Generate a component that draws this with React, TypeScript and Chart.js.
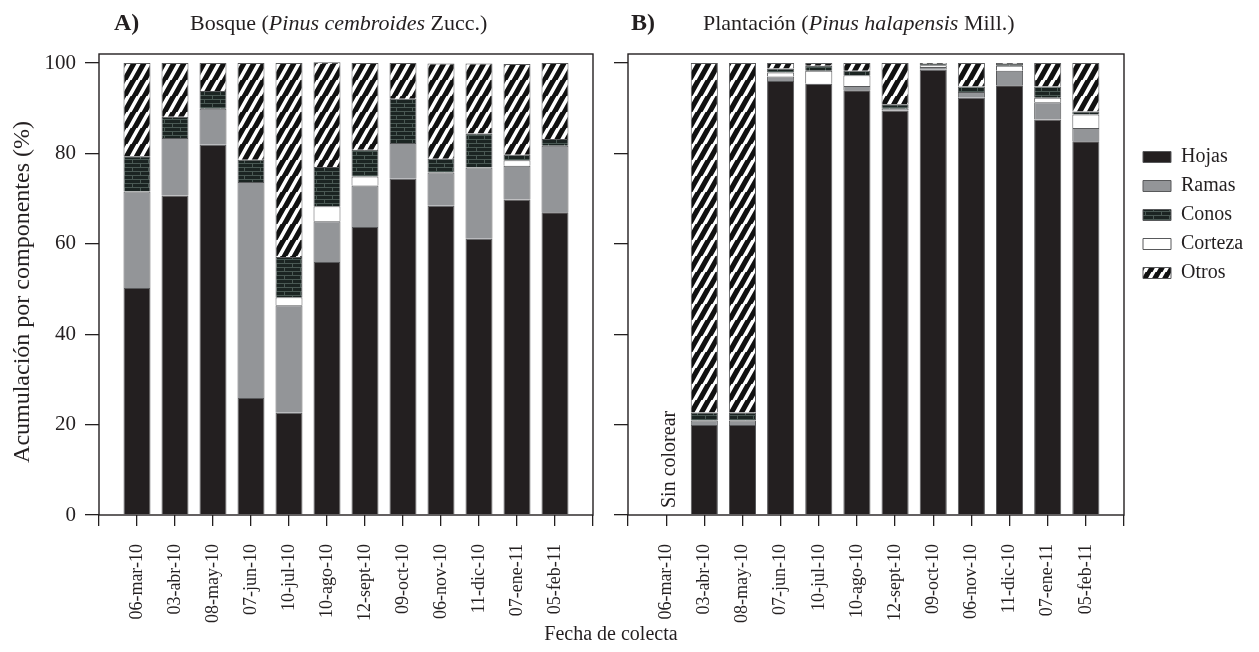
import React, { useEffect, useRef } from 'react';
import { Chart, registerables } from 'chart.js';

Chart.register(...registerables);

// ---------- data ----------
const DATES = ['06-mar-10', '03-abr-10', '08-may-10', '07-jun-10', '10-jul-10', '10-ago-10', '12-sept-10', '09-oct-10', '06-nov-10', '11-dic-10', '07-ene-11', '05-feb-11'];
const Y_TICKS = [0, 20, 40, 60, 80, 100];
// stacking order (bottom -> top)
const STACK_ORDER = ['Hojas', 'Ramas', 'Corteza', 'Conos', 'Otros'];
const LEGEND_ORDER = ['Hojas', 'Ramas', 'Conos', 'Corteza', 'Otros'];

// Panel A: Bosque (Pinus cembroides)
const hojasA = [50.2, 70.7, 81.9, 25.9, 22.6, 56.0, 63.7, 74.4, 68.4, 61.1, 69.8, 67.0];
const ramasA = [21.4, 12.7, 8.0, 47.8, 23.8, 9.0, 9.2, 7.9, 7.4, 15.8, 7.5, 14.7];
const cortezaA = [0, 0, 0, 0, 1.8, 3.3, 2.0, 0, 0, 0, 1.2, 0];
const conosA = [7.8, 4.7, 3.9, 4.9, 8.9, 8.7, 5.9, 9.8, 3.0, 7.5, 1.2, 1.5];
const otrosA = [20.6, 11.9, 6.2, 21.4, 42.9, 23.2, 19.2, 7.9, 21.1, 15.5, 20.1, 16.8];

// Panel B: Plantación (Pinus halapensis)
const hojasB = [null, 19.9, 19.9, 96.0, 95.4, 94.0, 89.5, 98.5, 92.3, 95.1, 87.5, 82.7];
const ramasB = [null, 1.0, 1.0, 1.0, 0, 0.9, 0.4, 0.6, 1.3, 3.2, 3.8, 2.9];
const cortezaB = [null, 0, 0, 0.9, 2.9, 2.4, 0, 0.4, 0, 1.1, 1.0, 3.0];
const conosB = [null, 1.8, 1.8, 0.9, 1.1, 1.0, 1.0, 0.3, 1.2, 0.4, 2.5, 0.7];
const otrosB = [null, 77.3, 77.3, 1.2, 0.6, 1.7, 9.1, 0.2, 5.2, 0.2, 5.2, 10.7];

const UNCOLORED_NOTE = 'Sin colorear';
const UNCOLORED_INDEX = 0;

// ---------- style ----------
const FONT = '"Liberation Serif", "DejaVu Serif", serif';
const INK = '#231f20';

function makeConosPattern(): CanvasPattern | string {
  const c = document.createElement('canvas');
  c.width = 16;
  c.height = 8;
  const g = c.getContext('2d');
  if (!g) return '#1d2624';
  g.fillStyle = '#1b2422';
  g.fillRect(0, 0, 16, 8);
  g.strokeStyle = '#4a5954';
  g.lineWidth = 1;
  g.beginPath();
  g.moveTo(0, 3.5); g.lineTo(16, 3.5);
  g.moveTo(0, 7.5); g.lineTo(16, 7.5);
  g.moveTo(4.5, 0); g.lineTo(4.5, 3.5);
  g.moveTo(12.5, 4); g.lineTo(12.5, 7.5);
  g.stroke();
  return g.createPattern(c, 'repeat') || '#1d2624';
}

function makeOtrosPattern(): CanvasPattern | string {
  const c = document.createElement('canvas');
  c.width = 10;
  c.height = 16;
  const g = c.getContext('2d');
  if (!g) return '#000';
  g.fillStyle = '#111';
  g.fillRect(0, 0, 10, 16);
  g.strokeStyle = '#ffffff';
  g.lineWidth = 3.6;
  g.lineCap = 'butt';
  g.beginPath();
  for (const dx of [-10, 0, 10]) {
    g.moveTo(dx - 1, 17);
    g.lineTo(dx + 9, -1);
  }
  g.stroke();
  return g.createPattern(c, 'repeat') || '#000';
}

const framePlugin = {
  id: 'frame',
  afterDatasetsDraw(chart: any) {
    const { ctx, chartArea: a } = chart;
    ctx.save();
    ctx.strokeStyle = INK;
    ctx.lineWidth = 1.4;
    ctx.strokeRect(a.left, a.top, a.right - a.left, a.bottom - a.top);
    ctx.restore();
  },
};

function buildDatasets(series: (number | null)[][], fills: Record<string, any>) {
  return STACK_ORDER.map((name, i) => ({
    label: name,
    data: [null, ...series[i], null],
    backgroundColor: fills[name],
    borderColor: '#58595b',
    borderWidth: 1,
    categoryPercentage: 1,
    barPercentage: 0.71,
    stack: 's',
  }));
}

function xScale() {
  return {
    type: 'category',
    stacked: true,
    offset: false,
    grid: { display: true, drawOnChartArea: false, drawTicks: true, tickLength: 11, offset: false, color: INK, lineWidth: 1.3 },
    border: { display: false },
    ticks: { autoSkip: false, minRotation: 90, maxRotation: 90, padding: 18, color: INK, font: { family: FONT, size: 18 } },
    afterFit: (s: any) => {
      s.height = 137;
      s.paddingLeft = 0;
      s.paddingRight = 0;
    },
  };
}

function yScale(showLabels: boolean, width: number) {
  return {
    stacked: true,
    min: 0,
    max: 102,
    afterBuildTicks: (s: any) => { s.ticks = Y_TICKS.map((v) => ({ value: v })); },
    grid: { display: true, drawOnChartArea: false, drawTicks: true, tickLength: 14, color: INK, lineWidth: 1.3 },
    border: { display: false },
    ticks: { display: showLabels, padding: 9, color: INK, font: { family: FONT, size: 21 } },
    afterFit: (s: any) => { s.width = width; },
  };
}

export default function App() {
  const refA = useRef<HTMLCanvasElement>(null);
  const refB = useRef<HTMLCanvasElement>(null);

  useEffect(() => {
    document.body.style.margin = '0';
    const fills: Record<string, any> = {
      Hojas: INK,
      Ramas: '#939598',
      Corteza: '#ffffff',
      Conos: makeConosPattern(),
      Otros: makeOtrosPattern(),
    };
    const labels = ['', ...DATES, ''];

    const chartA = new Chart(refA.current as HTMLCanvasElement, {
      type: 'bar',
      data: { labels, datasets: buildDatasets([hojasA, ramasA, cortezaA, conosA, otrosA], fills) as any },
      options: {
        animation: false,
        responsive: false,
        layout: { padding: { top: 54, right: 12, bottom: 0, left: 0 } },
        plugins: { legend: { display: false }, tooltip: { enabled: false } },
        scales: { x: xScale() as any, y: yScale(true, 99) as any },
      },
      plugins: [framePlugin],
    });

    const notePlugin = {
      id: 'note',
      afterDatasetsDraw(chart: any) {
        const { ctx } = chart;
        const x = chart.scales.x.getPixelForValue(UNCOLORED_INDEX + 1) + 4;
        const y = chart.scales.y.getPixelForValue(0) - 7;
        ctx.save();
        ctx.translate(x, y);
        ctx.rotate(-Math.PI / 2);
        ctx.fillStyle = INK;
        ctx.font = `20px ${FONT}`;
        ctx.textAlign = 'left';
        ctx.textBaseline = 'middle';
        ctx.fillText(UNCOLORED_NOTE, 0, 0);
        ctx.restore();
      },
    };

    const legendPlacer = {
      id: 'legendPlacer',
      afterLayout(chart: any) {
        const lg = chart.legend;
        const a = chart.chartArea;
        if (!lg) return;
        const w = lg.width;
        const h = lg.height;
        lg.left = a.right + 10;
        lg.right = lg.left + w;
        lg.top = a.top + 84;
        lg.bottom = lg.top + h;
      },
    };

    const chartB = new Chart(refB.current as HTMLCanvasElement, {
      type: 'bar',
      data: { labels, datasets: buildDatasets([hojasB, ramasB, cortezaB, conosB, otrosB], fills) as any },
      options: {
        animation: false,
        responsive: false,
        layout: { padding: { top: 54, right: 135, bottom: 0, left: 0 } },
        plugins: {
          tooltip: { enabled: false },
          legend: {
            display: true,
            position: 'chartArea' as any,
            align: 'start',
            labels: {
              boxWidth: 28,
              boxHeight: 11,
              padding: 9,
              color: INK,
              font: { family: FONT, size: 20 },
              sort: (a: any, b: any) => LEGEND_ORDER.indexOf(a.text) - LEGEND_ORDER.indexOf(b.text),
            },
          },
        },
        scales: { x: xScale() as any, y: yScale(false, 23) as any },
      },
      plugins: [framePlugin, notePlugin, legendPlacer],
    });

    return () => {
      chartA.destroy();
      chartB.destroy();
    };
  }, []);

  const text: React.CSSProperties = { position: 'absolute', fontFamily: FONT, color: INK, whiteSpace: 'nowrap', lineHeight: 1 };

  return (
    <div style={{ position: 'absolute', left: 0, top: 0, width: 1259, height: 652, background: '#fff', overflow: 'hidden' }}>
      <canvas ref={refA} width={605} height={652} style={{ position: 'absolute', left: 0, top: 0, width: 605, height: 652 }} />
      <canvas ref={refB} width={654} height={652} style={{ position: 'absolute', left: 605, top: 0, width: 654, height: 652 }} />
      <div style={{ ...text, left: 114, top: 10, fontSize: 24, fontWeight: 'bold' }}>A)</div>
      <div style={{ ...text, left: 190, top: 12, fontSize: 22 }}>
        Bosque (<i>Pinus cembroides</i> Zucc.)
      </div>
      <div style={{ ...text, left: 631, top: 10, fontSize: 24, fontWeight: 'bold' }}>B)</div>
      <div style={{ ...text, left: 703, top: 12, fontSize: 22 }}>
        Plantación (<i>Pinus halapensis</i> Mill.)
      </div>
      <div
        style={{
          ...text,
          left: 21 - 200,
          top: 292 - 12,
          width: 400,
          height: 24,
          fontSize: 24,
          textAlign: 'center',
          transform: 'rotate(-90deg)',
          transformOrigin: '50% 50%',
        }}
      >
        Acumulación por componentes (%)
      </div>
      <div style={{ ...text, left: 0, width: 1222, top: 623, fontSize: 20, textAlign: 'center' }}>Fecha de colecta</div>
    </div>
  );
}
